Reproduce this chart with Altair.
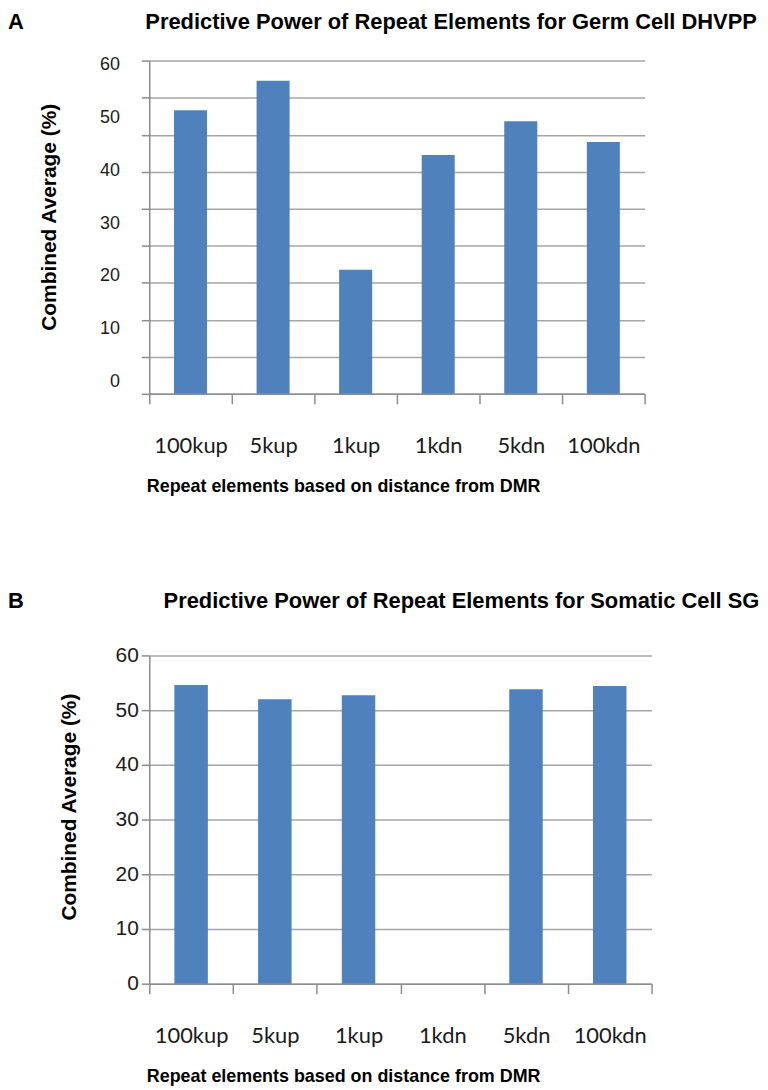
import altair as alt
import pandas as pd

# ---- data ----
categories = ["100kup", "5kup", "1kup", "1kdn", "5kdn", "100kdn"]
germ_values = [51.4, 57.0, 21.2, 42.9, 49.3, 45.4]        # panel A (read against the printed labels)
somatic_values = [54.6, 52.0, 52.7, 0.0, 53.8, 54.4]      # panel B (1kdn has no bar)
y_labels = [0, 10, 20, 30, 40, 50, 60]

title_a = "Predictive Power of Repeat Elements for Germ Cell DHVPP"
title_b = "Predictive Power of Repeat Elements for Somatic Cell SG"
x_title = "Repeat elements based on distance from DMR"
y_title = "Combined Average (%)"

# ---- styling ----
BAR = "#4f81bd"
GRID = "#a6a6a6"
AXIS = "#8c8c8c"
NBSP = "\u00a0"
SANS = "Liberation Sans"

dfA = pd.DataFrame({"distance": categories, "value": germ_values})
dfB = pd.DataFrame({"distance": categories, "value": somatic_values})

# panel A: gridlines of the original figure do not coincide with its printed labels
A_MIN, A_MAX = -2.32, 60.8
A_GRID_STEP = 7.01
a_grid = [round(A_MIN + A_GRID_STEP * k, 3) for k in range(10)]


def x_enc():
    return alt.X(
        "distance:N",
        sort=categories,
        scale=alt.Scale(domain=categories, paddingInner=0, paddingOuter=0),
        axis=alt.Axis(
            title=x_title, labelAngle=0, tickBand="extent", tickSize=10,
            tickColor=AXIS, tickWidth=1.5, domainColor=AXIS, domainWidth=1.5,
            labelFont="Lato", labelFontSize=22, labelColor="#1a1a1a", labelPadding=32,
            titleFont=SANS, titleFontSize=18, titleFontWeight="bold", titleColor="black",
            titleAlign="left", titleAnchor="start", titleX=-3, titleY=84, titleBaseline="top",
        ),
    )


bar_mark = dict(color=BAR, width=alt.RelativeBandSize(0.4))

ya_scale = alt.Scale(domain=[A_MIN, A_MAX], nice=False, zero=False)

barsA = alt.Chart(dfA).mark_bar(**bar_mark).encode(
    x=x_enc(),
    y=alt.Y(
        "value:Q", scale=ya_scale,
        axis=alt.Axis(
            orient="left", values=a_grid, labels=False, grid=True, gridColor=GRID, gridWidth=1.5,
            ticks=True, tickSize=8, tickColor=AXIS, tickWidth=1.5, domainColor=AXIS, domainWidth=1.5,
            title=y_title, titleFont=SANS, titleFontSize=21, titleFontWeight="bold", titleColor="black",
            titleX=-90, titleY=157,
        ),
    ),
    y2=alt.datum(A_MIN),
)
labelsA = alt.Chart(dfA).mark_bar(opacity=0, width=alt.RelativeBandSize(0.4)).encode(
    x=x_enc(),
    y=alt.Y(
        "value:Q", scale=ya_scale,
        axis=alt.Axis(
            orient="left", values=y_labels, grid=False, ticks=False, tickSize=0, domain=False,
            labelPadding=30, labelFont=SANS, labelFontSize=18, labelColor="#1a1a1a", title=None,
        ),
    ),
    y2=alt.datum(A_MIN),
)

panelA = alt.layer(barsA, labelsA).resolve_axis(y="independent").properties(
    width=498, height=335,
    title=alt.TitleParams(
        text="A" + NBSP * 20 + title_a, anchor="start", frame="bounds", dx=-31, offset=22,
        font=SANS, fontSize=22, fontWeight="bold", color="black",
    ),
)

barsB = alt.Chart(dfB).mark_bar(**bar_mark).encode(
    x=x_enc(),
    y=alt.Y(
        "value:Q", scale=alt.Scale(domain=[0, 60], nice=False),
        axis=alt.Axis(
            values=y_labels, grid=True, gridColor=GRID, gridWidth=1.5,
            ticks=True, tickSize=8, tickColor=AXIS, tickWidth=1.5, domainColor=AXIS, domainWidth=1.5,
            labelPadding=3, labelFont=SANS, labelFontSize=21, labelColor="#1a1a1a",
            title=y_title, titleFont=SANS, titleFontSize=21, titleFontWeight="bold", titleColor="black",
            titleX=-70, titleY=152,
        ),
    ),
)

panelB = barsB.properties(
    width=505, height=330,
    title=alt.TitleParams(
        text="B" + NBSP * 23 + title_b, anchor="start", frame="bounds", dx=-51, offset=32,
        font=SANS, fontSize=22, fontWeight="bold", color="black",
    ),
)

chart = alt.vconcat(panelA, panelB, spacing=95).properties(
    padding={"left": 0, "top": 0, "right": 0, "bottom": 0}
).configure_view(stroke=None)

chart.save("out.html", embed_options={"renderer": "svg", "actions": False})
